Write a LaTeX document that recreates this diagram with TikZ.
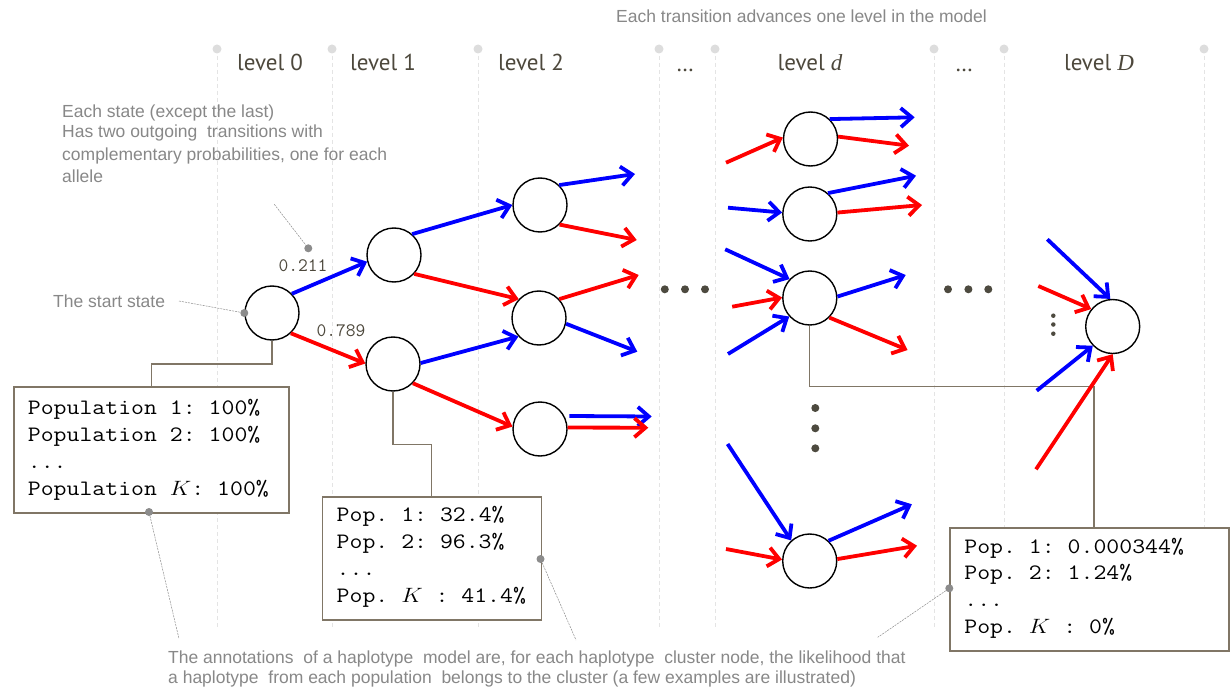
\documentclass[tikz,border=0pt]{standalone}
\usepackage{fontspec}
\usepackage{graphicx}
\setmainfont{Liberation Sans}
\newfontfamily\lvlfont{PT Sans}
\newfontfamily\serfont{Liberation Serif}
\usetikzlibrary{arrows.meta}
\definecolor{arrblue}{RGB}{0,0,255}
\definecolor{arrred}{RGB}{255,0,0}
\definecolor{annotgray}{RGB}{136,136,136}
\definecolor{lvlcol}{RGB}{77,72,60}
\definecolor{boxcol}{RGB}{128,118,102}
\definecolor{guidecol}{RGB}{228,228,228}
\definecolor{topdot}{RGB}{221,221,221}
\definecolor{leadcol}{RGB}{140,140,140}
\definecolor{ellcol}{RGB}{77,74,63}
\newcommand{\mt}[1]{\scalebox{1.14}[1]{#1}}
\begin{document}
\begin{tikzpicture}[x=1pt,y=-1pt,
  state/.style={circle, draw=black, line width=1.4pt, minimum size=54pt, inner sep=0pt, fill=white},
  barr/.style={line width=3.8pt, draw=arrblue, -{Straight Barb[length=11pt,width=19pt]}},
  rarr/.style={line width=3.8pt, draw=arrred, -{Straight Barb[length=11pt,width=19pt]}},
  guide/.style={draw=guidecol, line width=0.7pt, dash pattern=on 4pt off 3pt},
  annot/.style={text=annotgray, font=\fontsize{17.5}{20}\selectfont, anchor=base west, inner sep=0pt},
  lvl/.style={text=lvlcol, font=\lvlfont\fontsize{23}{26}\selectfont, anchor=base, inner sep=0pt},
  num/.style={text=lvlcol, font=\ttfamily\fontsize{19}{20}\selectfont, anchor=base, inner sep=0pt},
  popbox/.style={draw=boxcol, line width=1.5pt, fill=white, anchor=north west, inner sep=0pt},
  poptext/.style={font=\ttfamily\fontsize{22}{27}\selectfont\frenchspacing, anchor=base west, inner sep=0pt},
  link/.style={draw=boxcol, line width=1.2pt},
  leader/.style={draw=leadcol, line width=0.5pt, dash pattern=on 2pt off 1pt},
  ldot/.style={circle, fill=leadcol, minimum size=8pt, inner sep=0pt},
  edot/.style={circle, fill=ellcol, minimum size=8pt, inner sep=0pt},
  sdot/.style={circle, fill=ellcol, minimum size=4.5pt, inner sep=0pt}]
\useasboundingbox (0,0) rectangle (1231,687);
\fill[white] (0,0) rectangle (1231,687);

% column guides
\foreach \x in {217,332,478,659,715,934,1004,1204} {
  \draw[guide] (\x,49) -- (\x,628);
  \fill[topdot] (\x,49) circle[radius=4.5pt];
}

% level labels
\node[lvl] (lv0) at (270,71) {level 0};
\node[lvl] (lv1) at (383,71) {level 1};
\node[lvl] (lv2) at (531,71) {level 2};
\node[lvl] (lve1) at (685,72) {\ldots};
\node[lvl] (lvd) at (810,71) {level {\serfont\itshape d}};
\node[lvl] (lve2) at (964,72) {\ldots};
\node[lvl] (lvD) at (1099,71) {level {\serfont\itshape D}};

% annotations
\node[annot] (trn) at (616,23) {Each transition advances one level in the model};
\node[annot] (es1) at (62,118) {Each state (except the last)};
\node[annot] (es2) at (62,138) {Has two outgoing\ \ transitions with};
\node[annot] (es3) at (62,161) {complementary probabilities, one for each};
\node[annot] (es4) at (62,183) {allele};
\node[annot] (sst) at (53,307) {The start state};
\node[annot] (bt1) at (168,663) {The annotations\ \ of a haplotype\ \ model are, for each haplotype\ \ cluster node, the likelihood that};
\node[annot] (bt2) at (168,683) {a haplotype\ \ from each population\ \ belongs to the cluster (a few examples are illustrated)};

% states
\node[state] (n0) at (272,313) {};
\node[state] (l1a) at (394,255) {};
\node[state] (l1b) at (393,364) {};
\node[state] (l2a) at (540,205) {};
\node[state] (l2b) at (539,318) {};
\node[state] (l2c) at (540,429) {};
\node[state] (d1) at (810.5,139) {};
\node[state] (d2) at (809.8,214) {};
\node[state] (d3) at (809.8,298) {};
\node[state] (d4) at (809.7,561) {};
\node[state] (dD) at (1112.7,326.5) {};

% boxes
\node[popbox, minimum width=275pt, minimum height=126pt] (box1) at (13,386) {};
\node[popbox, minimum width=219pt, minimum height=123pt] (box2) at (321.5,496) {};
\node[popbox, minimum width=279pt, minimum height=123pt] (box3) at (949.3,527.3) {};

% box links
\draw[link] (n0.south) -- ++(0,23.3) -| (box1.north);
\draw[link] (l1b.south) -- (393,444.7) -| (box2.north);
\draw[link] (d3.south) -- (809.8,386.7) -| ([xshift=4.5pt]box3.north);

% box texts
\node[poptext] (b1a) at (27.7,414) {\mt{Population 1: 100\%}};
\node[poptext] (b1b) at (27.7,441) {\mt{Population 2: 100\%}};
\node[poptext] (b1c) at (27.7,468) {\mt{...}};
\node[poptext] (b1d) at (27.7,495) {\mt{Population $K$: 100\%}};
\node[poptext] (b2a) at (336.5,521.7) {\mt{Pop. 1: 32.4\%}};
\node[poptext] (b2b) at (336.5,548.5) {\mt{Pop. 2: 96.3\%}};
\node[poptext] (b2c) at (336.5,575.3) {\mt{...}};
\node[poptext] (b2d) at (336.5,602.3) {\mt{Pop. $K$ : 41.4\%}};
\node[poptext] (b3a) at (964.2,553.3) {\mt{Pop. 1: 0.000344\%}};
\node[poptext] (b3b) at (964.2,579.5) {\mt{Pop. 2: 1.24\%}};
\node[poptext] (b3c) at (964.2,606.3) {\mt{...}};
\node[poptext] (b3d) at (964.2,633.3) {\mt{Pop. $K$ : 0\%}};

% leaders
\coordinate (le1) at (274.3,204.3);
\node[ldot] (ld1) at (308.3,248.3) {};
\draw[leader] (le1) -- (ld1);
\coordinate (le2) at (179,301);
\node[ldot] (ld2) at (n0.west) {};
\draw[leader] (le2) -- (ld2);
\node[ldot] (ld3) at (149,512) {};
\coordinate (le3) at (179,638.7);
\draw[leader] (ld3) -- (le3);
\node[ldot] (ld4) at (540.5,559) {};
\coordinate (le4) at (576,640);
\draw[leader] (ld4) -- (le4);
\node[ldot] (ld5) at (949.3,588.3) {};
\coordinate (le5) at (877.7,637.3);
\draw[leader] (ld5) -- (le5);

% probabilities
\node[num] (p1) at (303,271) {0.211};
\node[num] (p2) at (341,336) {0.789};

% ellipses
\node[edot] (ea1) at (664.8,289.3) {};
\node[edot] (ea2) at (685,289.3) {};
\node[edot] (ea3) at (705,289.3) {};
\node[edot] (eb1) at (948,289.3) {};
\node[edot] (eb2) at (968.4,289.3) {};
\node[edot] (eb3) at (988.3,289.3) {};
\node[edot] (ec1) at (815.3,408) {};
\node[edot] (ec2) at (815.3,428.3) {};
\node[edot] (ec3) at (815.3,448.3) {};
\node[sdot] (ed1) at (1053.3,315.7) {};
\node[sdot] (ed2) at (1053.3,324.5) {};
\node[sdot] (ed3) at (1053.3,333.7) {};

% transitions levels 0-2
\draw[barr] (n0.44) -- (l1a.194);
\draw[rarr] (n0.313) -- (l1b.179);
\draw[barr] (l1a.49) -- (l2a.180);
\draw[rarr] (l1a.317) -- (l2b.137);
\draw[barr] (l1b.2) -- (l2b.222);
\draw[rarr] (l1b.316) -- (l2c.175);

% free ends
\coordinate (o2a) at (635,174);
\coordinate (o2b) at (636.7,240);
\coordinate (o2c) at (638.7,275);
\coordinate (o2d) at (637.3,351.7);
\coordinate (o2e) at (651.7,416.5);
\coordinate (o2f) at (648.3,427.7);
\draw[barr] (l2a.46) -- (o2a);
\draw[rarr] (l2a.315) -- (o2b);
\draw[rarr] (l2b.43) -- (o2c);
\draw[barr] (l2b.348) -- (o2d);
\draw[barr] ([xshift=5pt]l2c.28) -- (o2e);
\draw[rarr] (l2c.3) -- (o2f);

% level d
\coordinate (i1) at (726,162.7);
\coordinate (i2) at (728,207.7);
\coordinate (i3) at (725.2,249.3);
\coordinate (i4) at (732.2,306.7);
\coordinate (i5) at (728,354);
\coordinate (i6) at (727.6,444);
\coordinate (i7) at (726,549);
\coordinate (od1) at (914.7,117.3);
\coordinate (od2) at (909,145.7);
\coordinate (od3) at (916,175.7);
\coordinate (od4) at (922,205);
\coordinate (od5) at (905.7,275);
\coordinate (od6) at (907.6,350);
\coordinate (od7) at (911.9,504.3);
\coordinate (od8) at (917,545.7);
\draw[rarr] (i1) -- (d1.177);
\draw[barr] (d1.46) -- (od1);
\draw[rarr] (d1.5) -- (od2);
\draw[barr] (i2) -- (d2.177);
\draw[barr] (d2.49) -- (od3);
\draw[rarr] (d2.3) -- (od4);
\draw[barr] (i3) -- (d3.137);
\draw[rarr] (i4) -- (d3.179);
\draw[barr] (i5) -- (d3.222);
\draw[barr] (d3.3) -- (od5);
\draw[rarr] (d3.315) -- (od6);
\draw[barr] (i6) -- (d4.132);
\draw[rarr] (i7) -- (d4.177);
\draw[barr] (d4.47) -- (od7);
\draw[rarr] (d4.4) -- (od8);

% level D
\coordinate (j1) at (1047.3,239.3);
\coordinate (j2) at (1038.3,286);
\coordinate (j3) at (1036.7,390.7);
\coordinate (j4) at (1036,469.3);
\draw[barr] (j1) -- (dD.95);
\draw[rarr] (j2) -- (dD.141);
\draw[barr] (j3) -- (dD.224);
\draw[rarr] (j4) -- (dD.270);
\end{tikzpicture}
\end{document}
